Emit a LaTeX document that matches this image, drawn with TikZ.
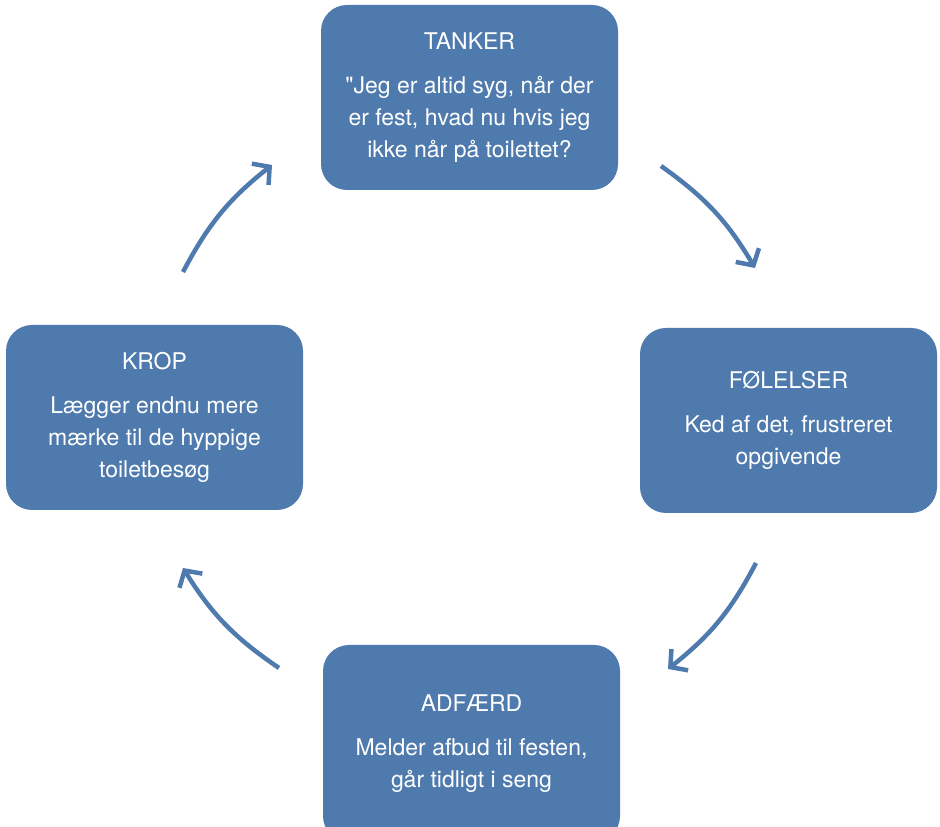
\documentclass[tikz,border=0pt]{standalone}
\usepackage{fontspec}
\setmainfont{TeX Gyre Heros}
\usetikzlibrary{arrows.meta}
\definecolor{boxblue}{RGB}{78,122,173}

\begin{document}
\begin{tikzpicture}[x=1pt, y=1pt,
		box/.style={rectangle, rounded corners=26pt, fill=boxblue, text=white, minimum width=297pt, minimum height=185pt, align=center, font=\fontsize{23}{32}\selectfont},
		cycle/.style={draw=boxblue, line width=4.5pt, -{Straight Barb[length=12pt, width=27pt]}, bend left=12}]
		\useasboundingbox (0,0) rectangle (940,827);
		\node[box] (tanker) at (469.5,729.5) {TANKER\\[12pt]\textquotedbl Jeg er altid syg, når der\\er fest, hvad nu hvis jeg\\ikke når på toilettet?};
		\node[box] (foelelser) at (788.5,406.5) {FØLELSER\\[12pt]Ked af det, frustreret\\opgivende};
		\node[box, minimum height=197pt] (adfaerd) at (471.5,83.5) {ADFÆRD\\[12pt]Melder afbud til festen,\\går tidligt i seng};
		\node[box] (krop) at (154.5,409.5) {KROP\\[12pt]Lægger endnu mere\\mærke til de hyppige\\toiletbesøg};
		
		% ends of the arrows round the circle
		\coordinate (k1) at (183,555);
		\coordinate (t1) at (272,662);
		\coordinate (t2) at (661,661);
		\coordinate (f1) at (755,559);
		\coordinate (f2) at (756,264);
		\coordinate (a1) at (668,158);
		\coordinate (a2) at (279,159);
		\coordinate (k2) at (183,259);
		
		\path 
		(k1) edge[cycle] (t1)
		(t2) edge[cycle] (f1)
		(f2) edge[cycle] (a1)
		(a2) edge[cycle] (k2);
	\end{tikzpicture}
\end{document}
